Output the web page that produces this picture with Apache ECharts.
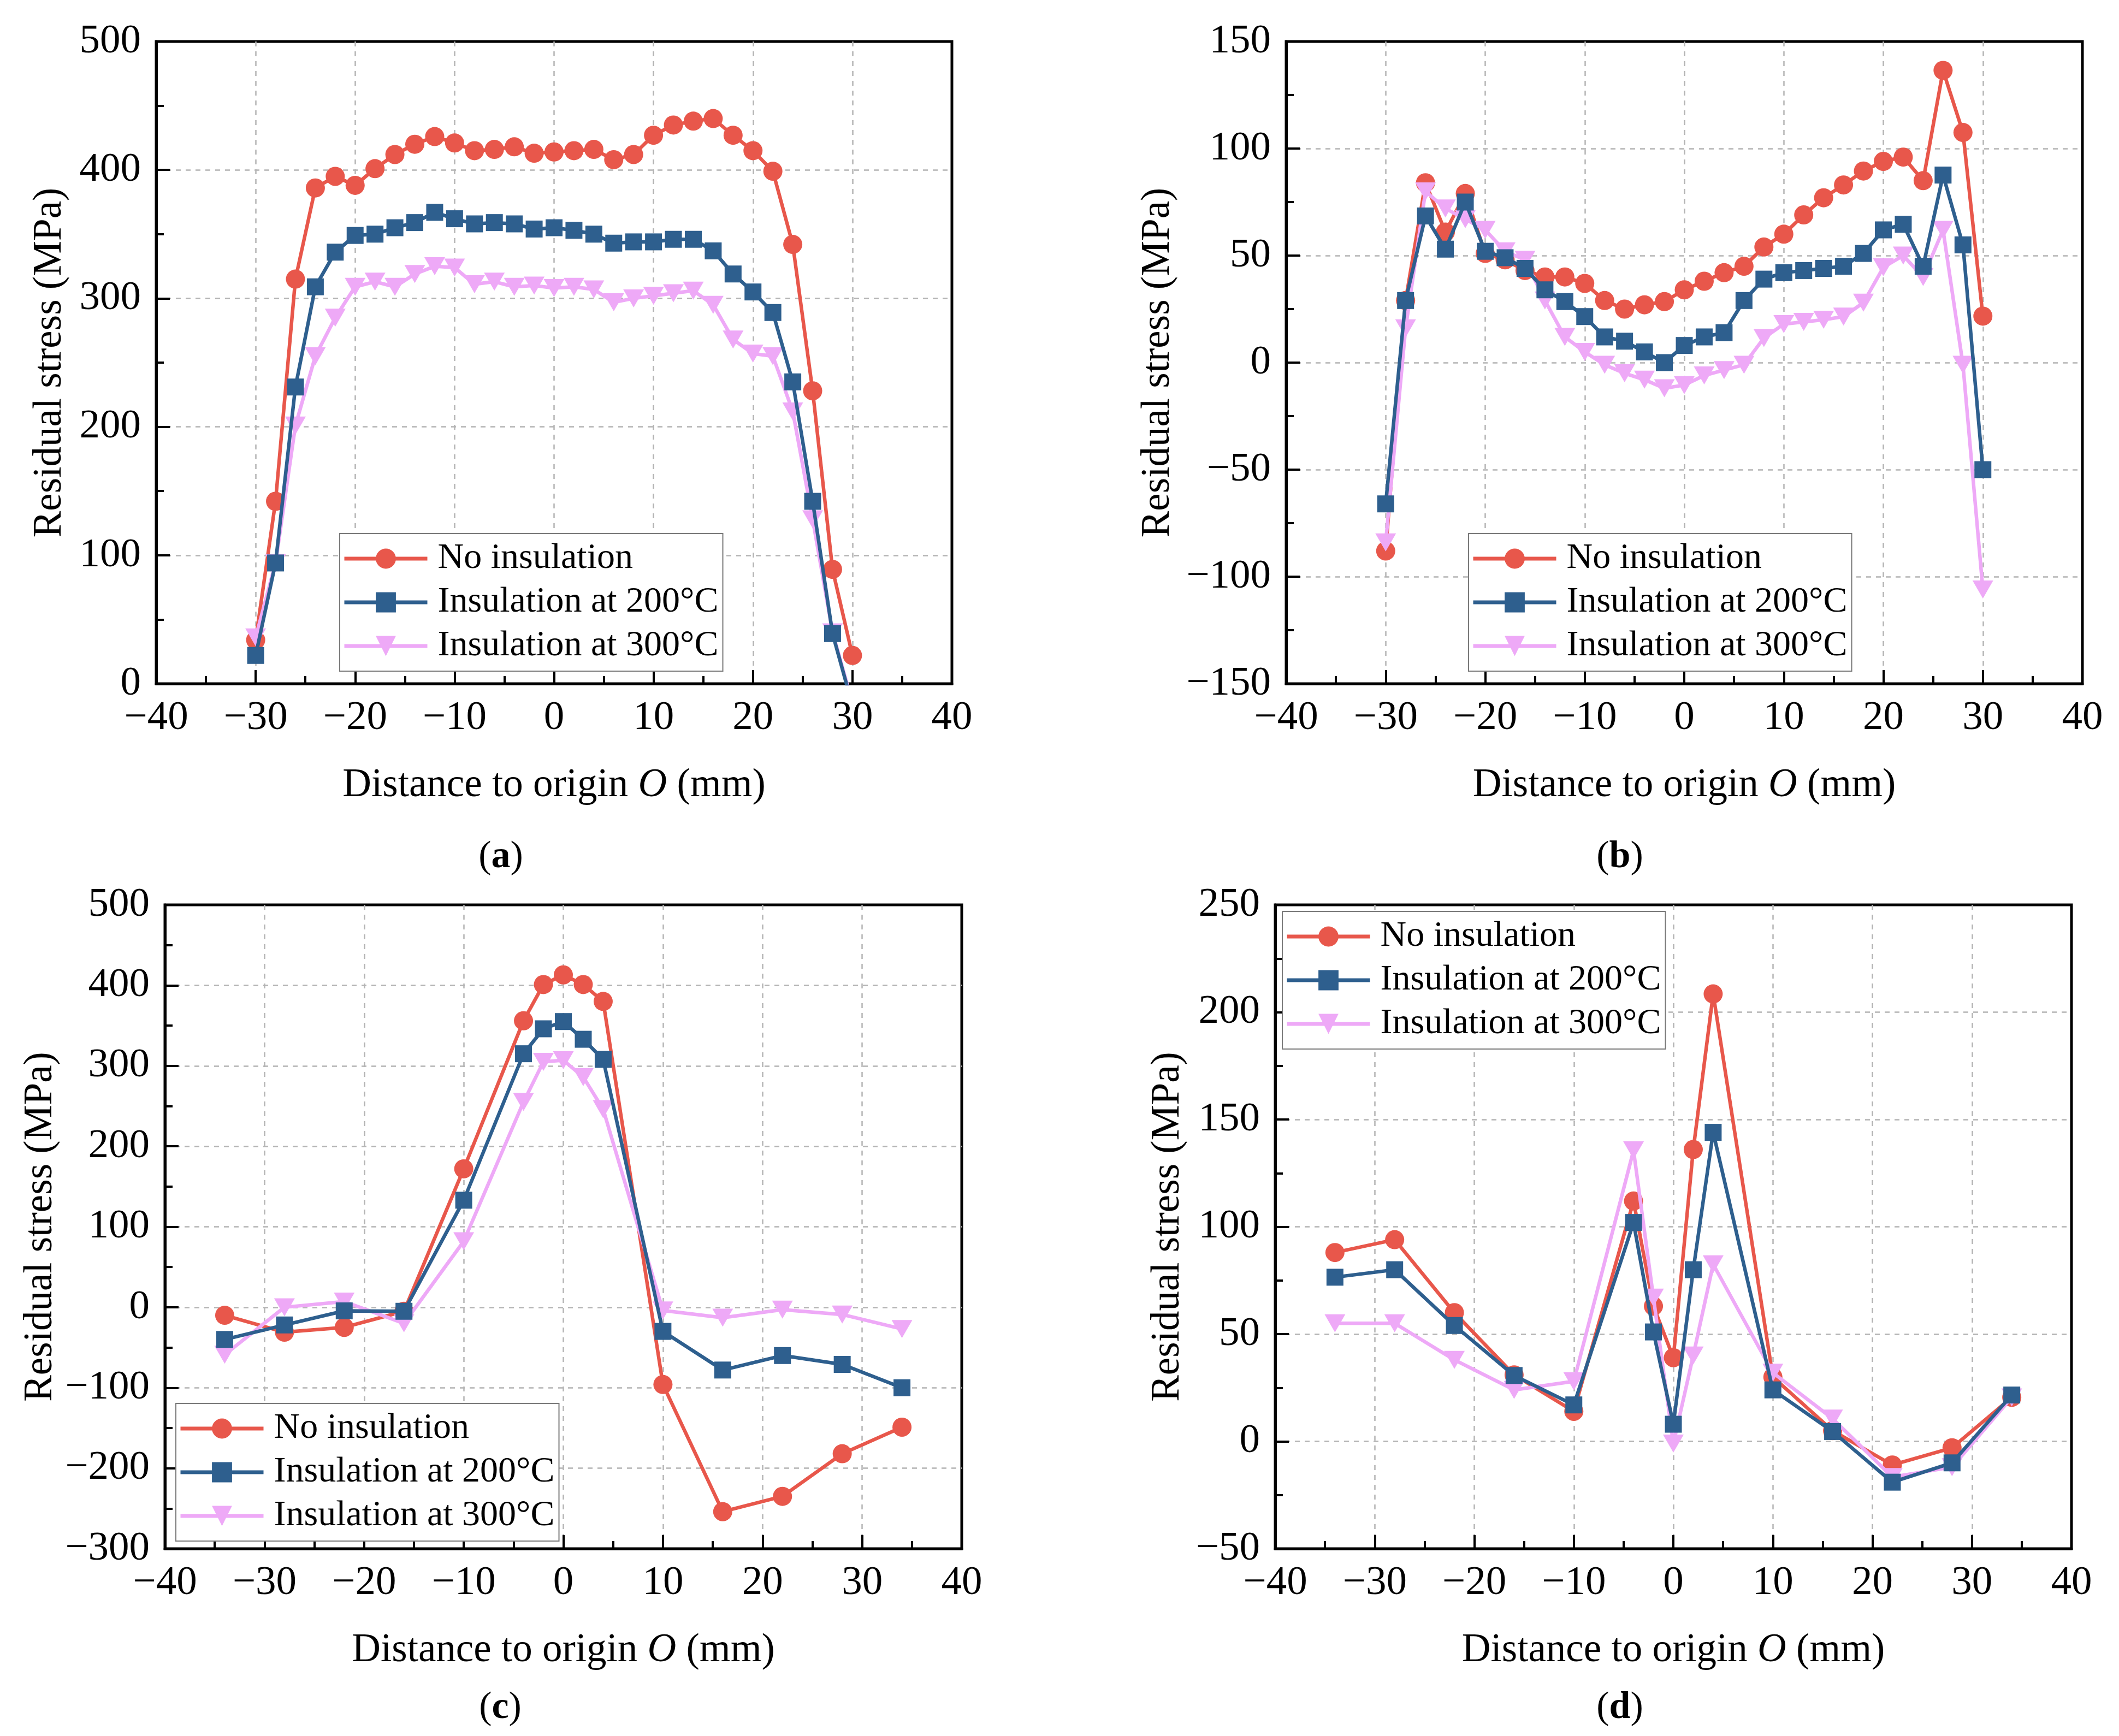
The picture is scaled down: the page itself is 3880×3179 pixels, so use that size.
<!DOCTYPE html>
<html><head><meta charset="utf-8">
<script src="https://cdn.jsdelivr.net/npm/echarts@6/dist/echarts.min.js"></script>
<style>html,body{margin:0;padding:0;background:#fff}#c{width:3880px;height:3179px}</style>
</head><body><div id="c"></div>
<script>
// ---- data ----
const xAB = [-30,-28,-26,-24,-22,-20,-18,-16,-14,-12,-10,-8,-6,-4,-2,0,2,4,6,8,10,12,14,16,18,20,22,24,26,28,30];
const xCD = [-34,-28,-22,-16,-10,-4,-2,0,2,4,10,16,22,28,34];
const seriesNames = ['No insulation','Insulation at 200°C','Insulation at 300°C'];

const aNo  = [34,142,315,386,395,388,401,412,420,426,421,415,416,418,413,414,415,416,408,412,427,435,438,440,427,415,399,342,228,89,22];
const a200 = [22,94,231,309,336,349,350,355,359,367,362,358,359,358,354,355,353,350,343,344,344,346,346,337,319,305,289,235,142,39,-17];
const a300 = [36,94,201,255,285,309,313,309,319,325,324,311,313,309,310,308,309,307,297,300,302,304,306,295,268,257,255,212,128,40,-15];

const bNo  = [-88,29,84,61,79,51,48,43,40,40,37,29,25,27,28.5,34,38,42,45,54,60,69,77,83,89.5,94,96,85,136.5,107.5,21.7];
const b200 = [-66,29,68.5,53,75,52,49,44,34,28.5,21.5,12,10,5,0,8,12,14,29,39,42,43,44,45,51,62,64.6,45,87.6,55,-50];
const b300 = [-84,16,80,72,67,62,52,48,29,12,5,-1,-5,-8,-12,-10.5,-6,-3.5,-1,11.5,18,19,20,21.5,28,44.5,50,40,62,-1,-106];

const cNo  = [-10,-31,-25,-5,172,356,401,413,401,380,-96,-254,-235,-182,-149];
const c200 = [-40,-22,-4.5,-5,133,315,346,355,333,308,-30,-78,-60,-71,-100];
const c300 = [-59,0,7,-20,82,255,305,307,286,246,-4,-13,-3,-9,-27];

const dNo  = [88,94,60,31,14,112,63,39,136,208.5,30,5,-11,-3,20.5];
const d200 = [76.5,80,54,30.7,17,102,51,8,80,144,24,4.6,-19,-10,21.6];
const d300 = [55,55,38,24,28,135.6,67,-1,40,82.5,32,10.6,-16.6,-12,20.5];

const yMins = [0,-150,-300,-50];
const yMaxs = [500,150,500,250];
const yIntervals = [100,50,100,50];
const panelLabels = ['a','b','c','d'];

// ---- styling / layout ----
const FONT = '"Liberation Serif","Times New Roman",serif';
const colors = ['#E8574B','#2E5F8E','#EEA9F7'];
const zOrder = [2,4,3];
const grids = [
  {left:286, top:76, width:1457, height:1176},
  {left:2355, top:76, width:1458, height:1176},
  {left:302, top:1657, width:1459, height:1179},
  {left:2335, top:1657, width:1458, height:1179}
];
const yNameGaps = [158, 198, 191, 160];
const legendPos = [[622,977],[2689,977],[322,2570],[2348,1669]];
const labelPos = [[917,1570],[2966,1570],[916,3128],[2966,3128]];

const fmt = v => String(v).replace('-', '\u2212');
const panelData = [
  [xAB,[aNo,a200,a300]],
  [xAB,[bNo,b200,b300]],
  [xCD,[cNo,c200,c300]],
  [xCD,[dNo,d200,d300]]
];
const symbols = ['circle','rect','path://M0,0 L10,0 L5,9 Z'];
const symSizes = [35,31,[38,33]];

const axisCommon = {
  axisLine:{show:true,onZero:false,lineStyle:{color:'#000',width:5}},
  axisTick:{show:true,inside:true,length:25,lineStyle:{color:'#000',width:4}},
  minorTick:{show:true,splitNumber:2,length:14,lineStyle:{color:'#000',width:4}},
  splitLine:{show:true,showMinLine:false,showMaxLine:false,lineStyle:{color:'#b4b4b4',width:2.5,type:[9,9]}},
  minorSplitLine:{show:false}
};

const xAxes = [], yAxes = [], series = [], legends = [], graphics = [];
for (let i=0;i<4;i++){
  xAxes.push(Object.assign({}, JSON.parse(JSON.stringify(axisCommon)), {
    type:'value', gridIndex:i, min:-40, max:40, interval:10,
    axisLabel:{fontSize:75,fontFamily:FONT,color:'#000',margin:26,formatter:fmt},
    name:'Distance to origin {i|O} (mm)', nameLocation:'middle', nameGap:150,
    nameTextStyle:{fontSize:73,fontFamily:FONT,color:'#000',
      rich:{i:{fontStyle:'italic',fontSize:73,fontFamily:FONT,color:'#000'}}}
  }));
  yAxes.push(Object.assign({}, JSON.parse(JSON.stringify(axisCommon)), {
    type:'value', gridIndex:i, min:yMins[i], max:yMaxs[i], interval:yIntervals[i],
    axisLabel:{fontSize:75,fontFamily:FONT,color:'#000',margin:28,formatter:fmt},
    name:'Residual stress (MPa)', nameLocation:'middle', nameGap:yNameGaps[i], nameRotate:90,
    nameTextStyle:{fontSize:73,fontFamily:FONT,color:'#000'}
  }));
  const [xs, ys] = panelData[i];
  for (let s=0;s<3;s++){
    series.push({
      type:'line', name:seriesNames[s], xAxisIndex:i, yAxisIndex:i,
      data: xs.map((x,k)=>[x, ys[s][k]]),
      symbol:symbols[s], symbolSize:symSizes[s], showAllSymbol:true,
      color:colors[s], itemStyle:{color:colors[s]},
      lineStyle:{color:colors[s],width:6.5},
      clip:true, z:zOrder[s]
    });
  }
  legends.push({
    data:seriesNames, orient:'vertical', left:legendPos[i][0], top:legendPos[i][1],
    itemWidth:152, itemHeight:46, itemGap:12, padding:[12,8,12,5],
    backgroundColor:'#fff', borderColor:'#7a7a7a', borderWidth:2,
    lineStyle:{width:7},
    textStyle:{fontSize:66,fontFamily:FONT,color:'#000',lineHeight:68,padding:[0,0,0,14]},
    selectedMode:false
  });
  graphics.push({
    type:'text', x:labelPos[i][0], y:labelPos[i][1],
    style:{text:'({b|'+panelLabels[i]+'})', fontSize:70, fontFamily:FONT, fill:'#000',
      align:'center', verticalAlign:'middle',
      rich:{b:{fontWeight:'bold',fontSize:70,fontFamily:FONT,fill:'#000'}}}
  });
}

const chart = echarts.init(document.getElementById('c'), null, {renderer:'canvas'});
chart.setOption({
  animation:false,
  backgroundColor:'#fff',
  grid: grids.map(g=>Object.assign({show:true,borderColor:'#000',borderWidth:5,backgroundColor:'transparent'},g)),
  xAxis:xAxes, yAxis:yAxes, series:series, legend:legends, graphic:graphics
});
</script></body></html>
